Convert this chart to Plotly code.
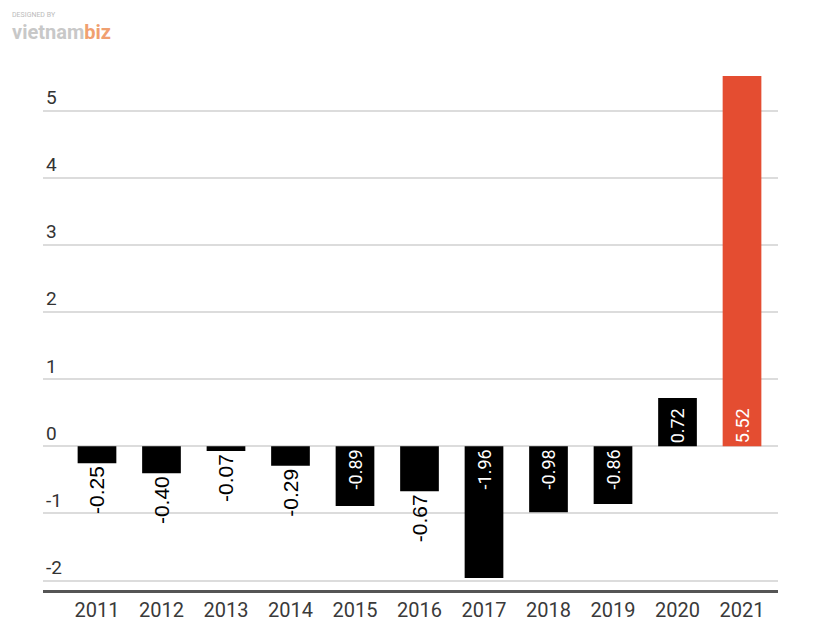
import plotly.graph_objects as go

years = ["2011", "2012", "2013", "2014", "2015", "2016", "2017", "2018", "2019", "2020", "2021"]
values = [-0.25, -0.40, -0.07, -0.29, -0.89, -0.67, -1.96, -0.98, -0.86, 0.72, 5.52]
labels = ["-0.25", "-0.40", "-0.07", "-0.29", "-0.89", "-0.67", "-1.96", "-0.98", "-0.86", "0.72", "5.52"]
positions = ["outside", "outside", "outside", "outside", "inside", "outside", "inside", "inside", "inside", "inside", "inside"]
colors = ["#000000"] * 10 + ["#E44D31"]
y_ticks = [-2, -1, 0, 1, 2, 3, 4, 5, 6]
y_ticktext = ["-2", "-1", "0", "1", "2", "3", "4", "5", ""]

fig = go.Figure()
fig.add_trace(go.Bar(
    x=list(range(len(years))), y=values, text=labels,
    textposition=positions, textangle=-90,
    insidetextanchor="start", constraintext="inside",
    marker=dict(color=colors, line=dict(width=0)),
    insidetextfont=dict(color="white", size=18, family="Roboto"),
    outsidetextfont=dict(color="black", size=21, family="Liberation Sans, Arial"),
    cliponaxis=False,
))

fig.update_layout(
    width=812, height=623,
    margin=dict(l=35, r=42, t=35, b=41),
    paper_bgcolor="white", plot_bgcolor="white",
    bargap=0.4, showlegend=False,
    font=dict(family="Roboto", color="#444"),
    xaxis=dict(
        range=[-0.837, 10.558], tickvals=list(range(len(years))), ticktext=years,
        showgrid=False, zeroline=False, showline=True, linecolor="#555", linewidth=3,
        tickfont=dict(size=20, color="#3a3a3a"), ticks="", automargin=False,
    ),
    yaxis=dict(
        range=[-2.14, 6.01], tickvals=y_ticks, ticktext=y_ticktext,
        showgrid=True, gridcolor="#dcdcdc", gridwidth=1.5, zeroline=False,
        ticklabelposition="inside top", tickfont=dict(size=19, color="#333"), ticks="",
        automargin=False,
    ),
)

fig.add_annotation(xref="paper", yref="paper", x=-0.045, y=1.04, xanchor="left", yanchor="bottom",
                   text="DESIGNED BY", showarrow=False, font=dict(size=7, color="#bbb", family="Roboto"))
fig.add_annotation(xref="paper", yref="paper", x=-0.045, y=0.995, xanchor="left", yanchor="bottom",
                   text="<b>vietnam</b><b><span style='color:#F0A070'>biz</span></b>", showarrow=False,
                   font=dict(size=20, color="#c8c8c8", family="Roboto"))

fig.write_html("out.html")
